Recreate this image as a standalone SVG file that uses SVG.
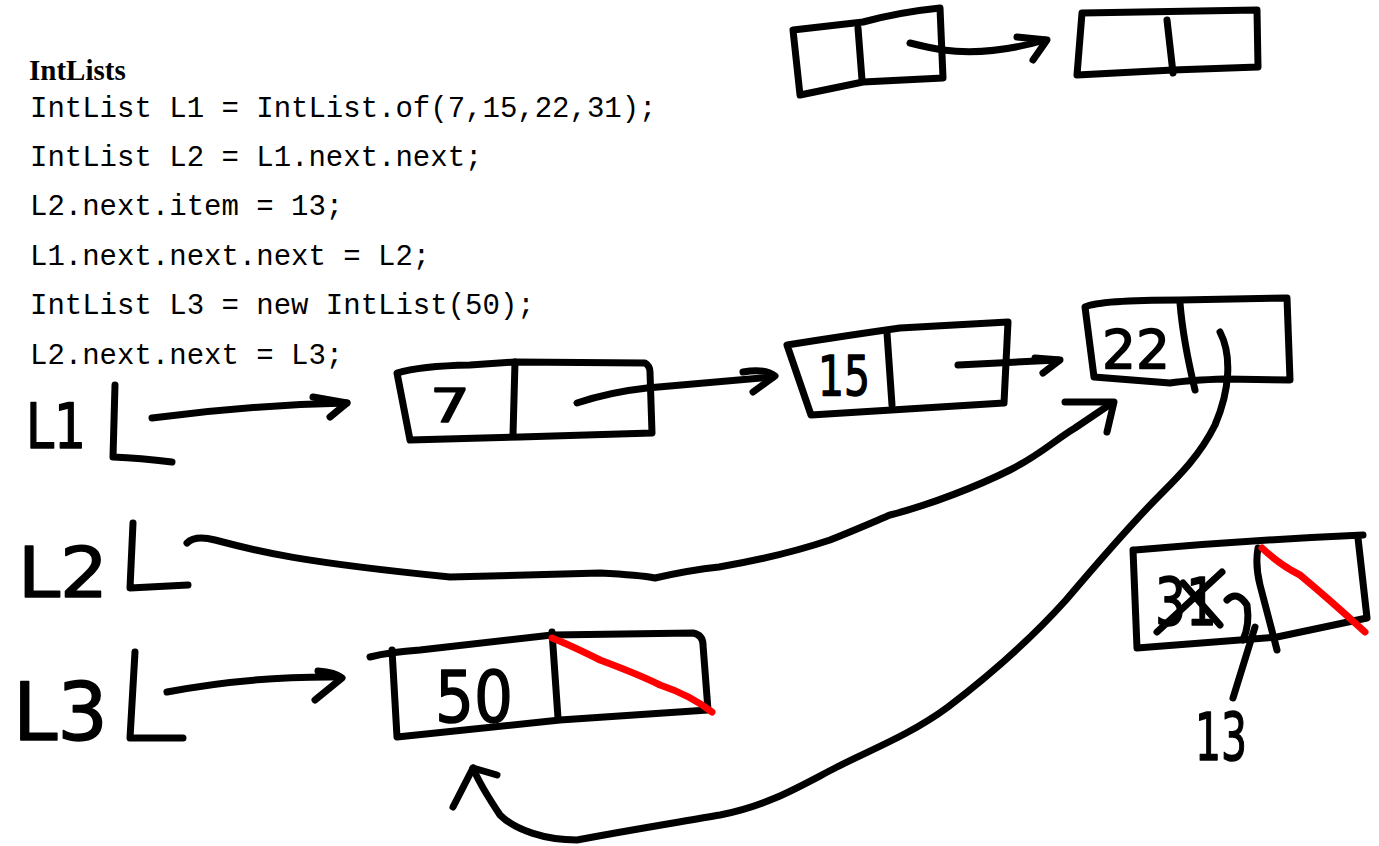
<svg xmlns="http://www.w3.org/2000/svg" width="1379" height="846" viewBox="0 0 1379 846">
<style>
.ink{fill:none;stroke:#000;stroke-width:7;stroke-linecap:round;stroke-linejoin:round}
.red{fill:none;stroke:#f00;stroke-width:7;stroke-linecap:round;stroke-linejoin:round}
.code{font-family:"Liberation Mono",monospace;font-size:29px;fill:#000}
.title{font-family:"Liberation Serif",serif;font-size:29px;font-weight:bold;fill:#000}
.hand{font-family:"DejaVu Sans",sans-serif;fill:#000;stroke:#000;stroke-width:1.5;stroke-linejoin:round}
</style>
<rect width="1379" height="846" fill="#fff"/>
<g id="code">
<text class="title" x="29" y="80">IntLists</text>
<text class="code" x="30" y="117" xml:space="preserve">IntList L1 = IntList.of(7,15,22,31);</text>
<text class="code" x="30" y="166" xml:space="preserve">IntList L2 = L1.next.next;</text>
<text class="code" x="30" y="215" xml:space="preserve">L2.next.item = 13;</text>
<text class="code" x="30" y="265" xml:space="preserve">L1.next.next.next = L2;</text>
<text class="code" x="30" y="314" xml:space="preserve">IntList L3 = new IntList(50);</text>
<text class="code" x="30" y="364" xml:space="preserve">L2.next.next = L3;</text>
</g>
<g id="topBoxA">
<path class="ink" d="M793,30 L863,22 Q900,12 940,8 L943,78 L863,82 L800,95 Z"/>
<path class="ink" d="M858,28 L862,80"/>
</g>
<g id="topBoxB">
<path class="ink" d="M1082,13 L1257,10 L1258,67 L1173,70 L1077,75 Z"/>
<path class="ink" d="M1167,20 L1173,73"/>
</g>
<g id="varL1">
<text class="hand" x="26" y="448" font-size="62" textLength="60" lengthAdjust="spacingAndGlyphs">L1</text>
<path class="ink" d="M115,385 L113,457 Q140,458 172,462"/>
</g>
<g id="varL2">
<text class="hand" x="18" y="597" font-size="70" textLength="90" lengthAdjust="spacingAndGlyphs">L2</text>
<path class="ink" d="M133,523 L130,588 L188,585"/>
</g>
<g id="varL3">
<text class="hand" x="13" y="740" font-size="80" textLength="95" lengthAdjust="spacingAndGlyphs">L3</text>
<path class="ink" d="M135,652 L130,738 L183,738"/>
</g>
<g id="node7">
<path class="ink" d="M397,373 Q420,366 470,365 L515,362 L645,363 Q650,366 650,372 L652,433 L520,437 L410,440 Z"/>
<path class="ink" d="M515,362 L513,435"/>
<text class="hand" x="430" y="422" font-size="46" textLength="40" lengthAdjust="spacingAndGlyphs">7</text>
</g>
<g id="node15">
<path class="ink" d="M787,345 Q850,335 900,328 L1008,322 L1004,403 L811,415 Z"/>
<path class="ink" d="M887,333 L892,405"/>
<text class="hand" x="818" y="395" font-size="56" textLength="52" lengthAdjust="spacingAndGlyphs">15</text>
</g>
<g id="node22">
<path class="ink" d="M1085,307 Q1100,300 1180,300 L1287,298 L1290,380 L1225,379 Q1190,380 1170,383 L1094,377 Z"/>
<path class="ink" d="M1180,303 Q1183,340 1195,390"/>
<text class="hand" x="1102" y="368" font-size="54" textLength="68" lengthAdjust="spacingAndGlyphs">22</text>
</g>
<g id="node50">
<path class="ink" d="M370,657 Q390,652 420,650 Q490,642 552,635 L693,633 Q703,635 703,645 L708,710 L560,720 L397,737 L392,650"/>
<path class="ink" d="M552,632 L558,718"/>
<path class="red" d="M552,638 Q570,645 600,660 Q640,675 660,685 Q690,695 712,712"/>
<text class="hand" x="435" y="722" font-size="72" textLength="78" lengthAdjust="spacingAndGlyphs">50</text>
</g>
<g id="node31">
<path class="ink" d="M1135,550 Q1250,540 1363,535"/>
<path class="ink" d="M1358,538 L1367,618 L1277,637 L1137,648 L1133,550"/>
<path class="ink" d="M1258,548 Q1255,565 1260,585 L1277,650"/>
<path class="red" d="M1262,548 Q1280,565 1300,575 Q1330,600 1365,632"/>
<text class="hand" x="1155" y="625" font-size="66" textLength="62" lengthAdjust="spacingAndGlyphs">31</text>
<path class="ink" d="M1157,632 L1222,572"/>
<path class="ink" d="M1183,583 L1220,625"/>
<path class="ink" d="M1227,600 Q1237,590 1247,605 Q1250,625 1243,640"/>
<path class="ink" d="M1255,627 L1233,698"/>
<text class="hand" x="1195" y="760" font-size="66" textLength="52" lengthAdjust="spacingAndGlyphs">13</text>
</g>
<g id="connectors">
<path class="ink" d="M910,43 Q930,48 943,50 Q990,56 1045,40"/>
<path class="ink" d="M1017,37 L1047,40 L1033,60"/>
<path class="ink" d="M152,418 Q250,405 347,403"/>
<path class="ink" d="M313,397 L347,403 L330,417"/>
<path class="ink" d="M187,543 Q195,535 215,540 C260,552 300,562 450,577 L600,573 Q640,575 655,578 Q690,570 719,567 C760,560 800,550 830,540 C860,528 878,520 890,515 C930,505 980,485 1010,470 C1040,455 1055,440 1075,428 L1112,403"/>
<path class="ink" d="M1065,402 L1114,402 L1107,432"/>
<path class="ink" d="M167,692 Q250,676 340,677"/>
<path class="ink" d="M318,671 Q335,672 342,678 L315,700"/>
<path class="ink" d="M577,403 Q610,392 647,388 L773,377"/>
<path class="ink" d="M743,372 Q765,368 775,376 L753,392"/>
<path class="ink" d="M958,365 L1058,360"/>
<path class="ink" d="M1035,358 L1060,360 L1043,373"/>
<path class="ink" d="M1220,332 C1232,355 1230,390 1215,425 C1200,455 1180,475 1160,495 C1130,525 1100,560 1066,600 C1030,640 990,675 948,707 C910,735 870,750 837,767 C800,786 770,805 720,815 C680,822 630,830 577,840 C545,840 515,830 500,815 C490,800 480,785 473,768"/>
<path class="ink" d="M453,807 L473,768 L497,775"/>
</g>
</svg>
